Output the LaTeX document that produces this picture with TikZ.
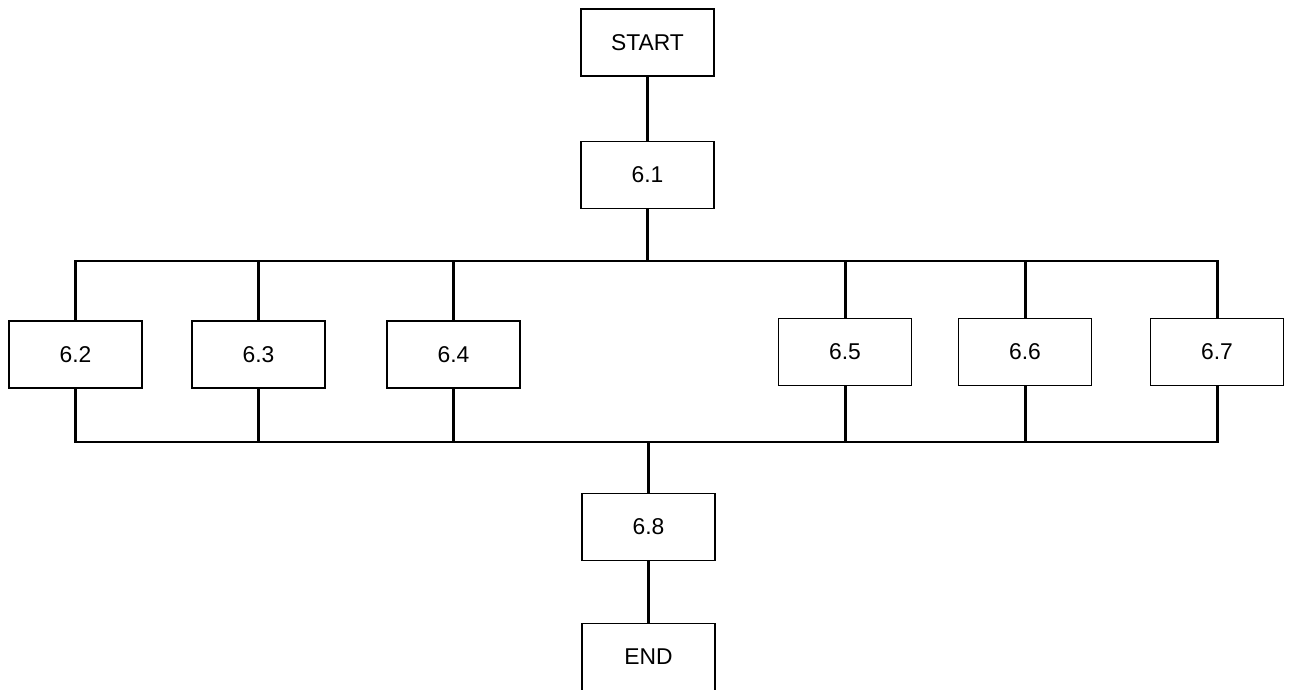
\documentclass[tikz,border=0pt]{standalone}
\usepackage{fontspec}
\setmainfont{Liberation Sans}
\usepackage{tikz}
\usetikzlibrary{calc}

\begin{document}
\begin{tikzpicture}[
    x=0.02cm, y=-0.02cm,
    font=\fontsize{13}{15}\selectfont,
    box/.style={rectangle, draw=black, line width=0.6pt, fill=white, minimum width=2.66cm, minimum height=1.34cm, inner sep=0pt},
    link/.style={draw=black, line width=1.7pt},
]

\clip (0,0) rectangle (1290,689);
\fill[white] (0,0) rectangle (1290,689);

% Start and first step
\node[box] (start) at (647.5,42.5) {START};
\node[box] (s61) at (647.5,175) {6.1};

% Parallel steps
\node[box] (s62) at (75.5,354.5) {6.2};
\node[box] (s63) at (258.5,354.5) {6.3};
\node[box] (s64) at (453.5,354.5) {6.4};
\node[box] (s65) at (845,352) {6.5};
\node[box] (s66) at (1025,352) {6.6};
\node[box] (s67) at (1217,352) {6.7};

% Join and end
\node[box] (s68) at (648.5,527) {6.8};
\node[box] (end) at (648.5,657) {END};

% Bus lines
\coordinate (topbus) at (647.5,261);
\coordinate (botbus) at (648.5,442);

% Edges
\draw[link] (start) -- (s61);
\draw[link] (s61.south) -- (s61.south |- topbus);
\draw[link] (s62.north) |- (topbus) -| (s67.north);
\foreach \n in {s63,s64,s65,s66}
    \draw[link] (\n.north) -- (\n.north |- topbus);

\draw[link] (s62.south) |- (botbus) -| (s67.south);
\foreach \n in {s63,s64,s65,s66}
    \draw[link] (\n.south) -- (\n.south |- botbus);
\draw[link] (s68.north |- botbus) -- (s68.north);
\draw[link] (s68) -- (end);

\end{tikzpicture}
\end{document}
